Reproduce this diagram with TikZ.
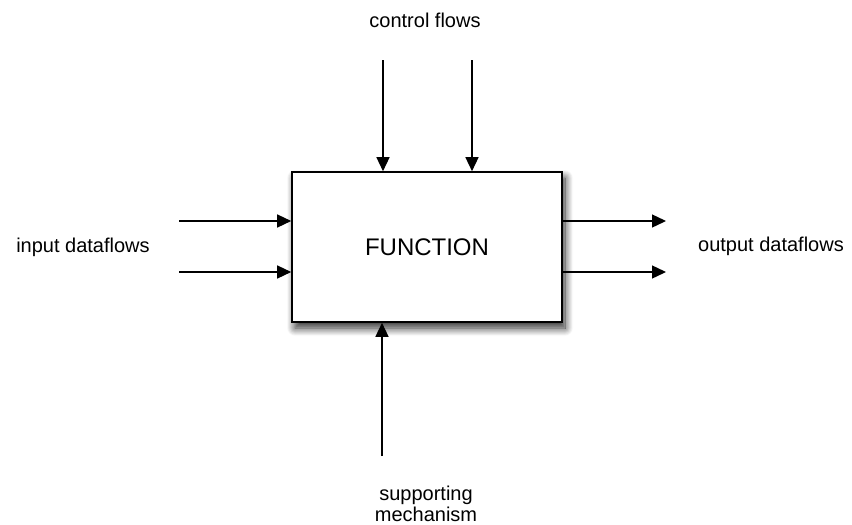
\documentclass[tikz,border=0pt]{standalone}
\usepackage{fontspec}
\setmainfont{Liberation Sans}
\usetikzlibrary{arrows.meta,shadows.blur}
\begin{document}
\begin{tikzpicture}[x=1pt,y=-1pt,
  lbl/.style={font=\fontsize{20}{21}\selectfont, inner sep=0pt, align=center},
  flow/.style={line width=1.4pt, -{Triangle[length=14pt,width=13pt]}},
  fbox/.style={draw, line width=1.6pt, fill=white, minimum width=270pt, minimum height=150pt,
    inner sep=0pt, font=\fontsize{24}{26}\selectfont,
    blur shadow={shadow xshift=3pt, shadow yshift=-6pt, shadow blur steps=14, shadow blur radius=8pt, shadow opacity=85}}]
\useasboundingbox (0,0) rectangle (852,525);
\node[fbox] (fn) at (427,247) {FUNCTION};
\node[lbl] (ctl) at (425,20) {control flows};
\node[lbl] (inp) at (83,247) {input dataflows};
\node[lbl] (out) at (771,246) {output dataflows};
\node[lbl] (sup) at (426,504) {supporting\\mechanism};
\coordinate (c1) at (383,60);
\coordinate (c2) at (472,60);
\coordinate (i1) at (179,221);
\coordinate (i2) at (179,272);
\coordinate (o1) at (666,221);
\coordinate (o2) at (666,272);
\coordinate (s1) at (382,456);
\draw[flow] (c1) -- (c1 |- fn.north);
\draw[flow] (c2) -- (c2 |- fn.north);
\draw[flow] (i1) -- (i1 -| fn.west);
\draw[flow] (i2) -- (i2 -| fn.west);
\draw[flow] (o1 -| fn.east) -- (o1);
\draw[flow] (o2 -| fn.east) -- (o2);
\draw[flow] (s1) -- (s1 |- fn.south);
\end{tikzpicture}
\end{document}
